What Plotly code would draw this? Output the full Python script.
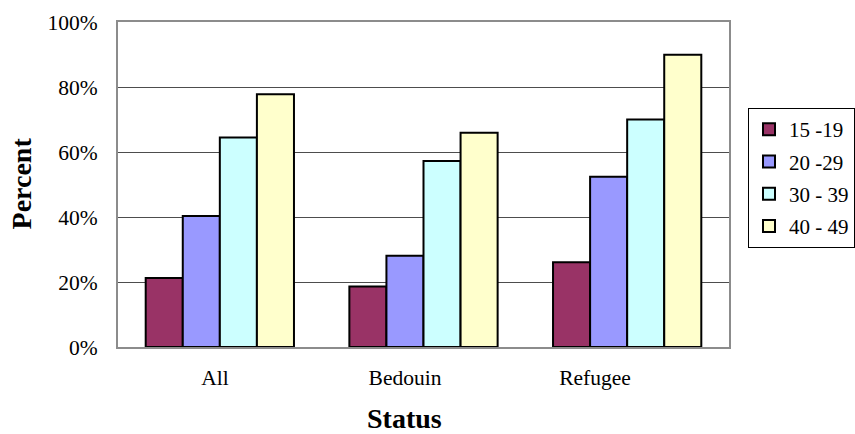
import plotly.graph_objects as go

# Survey groups and age-band percentages
categories = ["All", "Bedouin", "Refugee"]
age_bands = ["15 -19", "20 -29", "30 - 39", "40 - 49"]
pct_15_19 = [21.2, 18.6, 26.1]
pct_20_29 = [40.3, 28.1, 52.4]
pct_30_39 = [64.5, 57.2, 70.0]
pct_40_49 = [77.8, 65.9, 89.9]
y_ticks = [0, 20, 40, 60, 80, 100]
y_tick_labels = ["0%", "20%", "40%", "60%", "80%", "100%"]

series = [pct_15_19, pct_20_29, pct_30_39, pct_40_49]
colors = ["#993366", "#9999FF", "#CCFFFF", "#FFFFCC"]

FONT = "Liberation Serif"

fig = go.Figure()
for name, vals, col in zip(age_bands, series, colors):
    fig.add_trace(go.Bar(
        x=categories, y=vals, name=name, legendgroup=name,
        marker=dict(color=col, line=dict(color="black", width=2)),
    ))

# Empty trace so the category label axis is laid out
fig.add_trace(go.Scatter(x=[], y=[], xaxis="x2", yaxis="y",
                         showlegend=False, hoverinfo="skip"))

fig.update_layout(
    width=855, height=434,
    margin=dict(l=118, r=126, t=22, b=87, autoexpand=False),
    paper_bgcolor="white", plot_bgcolor="white",
    font=dict(family=FONT, size=21, color="black"),
    barmode="group", bargap=0.272, bargroupgap=0,
    showlegend=True,
    legend=dict(
        x=1.0311, y=0.7354, xanchor="left", yanchor="top",
        bordercolor="black", borderwidth=1, bgcolor="white",
        font=dict(family=FONT, size=21, color="black"),
        traceorder="grouped", tracegroupgap=2, itemwidth=30,
    ),
    xaxis=dict(
        range=[-0.5, 2.5], showticklabels=False, ticks="",
        showline=True, linecolor="#8c8c8c", linewidth=2, mirror=True,
        showgrid=False, zeroline=False,
    ),
    xaxis2=dict(
        overlaying="x", anchor="y", side="bottom",
        range=[-0.5105, 2.7053], tickvals=[0, 1, 2], ticktext=categories,
        ticks="", showline=False, showgrid=False, zeroline=False,
        ticklabelstandoff=15,
        tickfont=dict(family=FONT, size=21.5, color="black"),
    ),
    yaxis=dict(
        range=[0, 100], tickvals=y_ticks, ticktext=y_tick_labels,
        ticks="", ticklabelstandoff=14,
        showgrid=True, gridcolor="#4d4d4d", gridwidth=1,
        showline=True, linecolor="#8c8c8c", linewidth=2, mirror=True,
        zeroline=False,
        tickfont=dict(family=FONT, size=21.5, color="black"),
    ),
    annotations=[
        dict(text="<b>Percent</b>", xref="paper", yref="paper",
             x=-0.158, y=0.5046, xanchor="center", yanchor="middle",
             textangle=-90, showarrow=False,
             font=dict(family=FONT, size=28, color="black")),
        dict(text="<b>Status</b>", xref="paper", yref="paper",
             x=0.4697, y=-0.2190, xanchor="center", yanchor="middle",
             showarrow=False,
             font=dict(family=FONT, size=28, color="black")),
    ],
)

fig.write_html("out.html")
